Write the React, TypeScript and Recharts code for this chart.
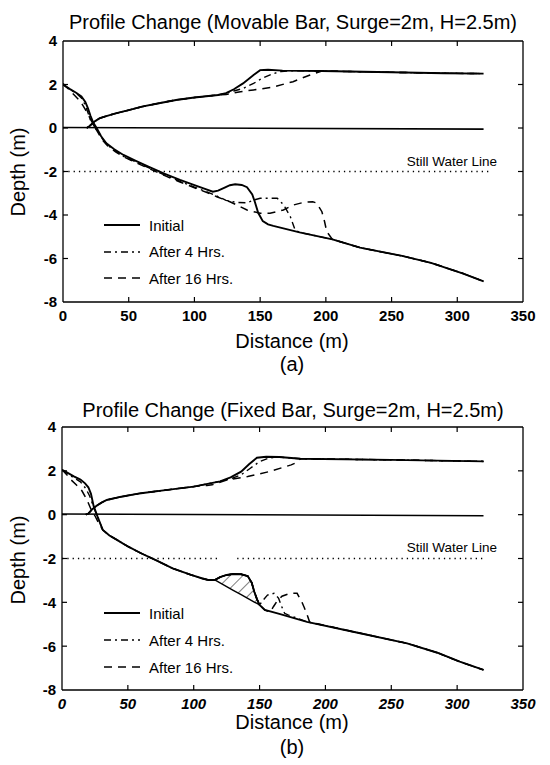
import React from 'react';
import { ComposedChart, Line, Area, XAxis, YAxis, Legend } from 'recharts';

type Pt = [number, number | null];

// panel (a) – movable bar
const A_INITIAL_BEACH: Pt[] = [
  [0, 2.0], [5, 1.8], [10, 1.62], [14, 1.45], [17, 1.2], [19, 0.9], [21, 0.55], [23, 0.25], [26, -0.05],
  [29, -0.38], [33, -0.7], [39, -0.98], [46, -1.24], [55, -1.5], [65, -1.78], [77, -2.1], [89, -2.39],
  [100, -2.63], [108, -2.8], [114, -2.93], [118, -2.88], [123, -2.74], [127, -2.63], [131, -2.59],
  [136, -2.62], [140, -2.72], [144, -3.05], [146, -3.4], [148.5, -3.9], [152, -4.28], [156, -4.43],
  [160, -4.5], [180, -4.8], [205, -5.12], [226, -5.5], [258, -5.88], [280, -6.2], [304, -6.68], [320, -7.05],
];
const A_INITIAL_UPPER: Pt[] = [
  [18, 0], [20, 0.08], [24, 0.3], [28, 0.45], [33, 0.55], [40, 0.67], [50, 0.82], [60, 0.98], [73, 1.14],
  [86, 1.29], [100, 1.4], [118, 1.52], [124, 1.6], [130, 1.78], [137, 2.05], [145, 2.44], [150, 2.66],
  [156, 2.68], [167, 2.64], [197, 2.62], [250, 2.56], [290, 2.52], [320, 2.5],
];
const A_HR4_BEACH: Pt[] = [
  [0, 2.0], [5, 1.78], [10, 1.6], [14, 1.38], [17, 1.05], [19, 0.7], [21, 0.35], [24, 0.05], [27, -0.2],
  [30, -0.5], [34, -0.8], [40, -1.05], [46, -1.3], [55, -1.55], [65, -1.82], [77, -2.15], [89, -2.45],
  [100, -2.72], [110, -2.95], [118, -3.15], [124, -3.33], [132, -3.42], [140, -3.44], [146, -3.3],
  [150, -3.23], [163, -3.23], [168, -3.54], [173, -4.08], [176.6, -4.69], [180, -4.8],
  [205, -5.12], [226, -5.5], [258, -5.88], [280, -6.2], [304, -6.68], [320, -7.05],
];
const A_HR4_UPPER: Pt[] = [
  [18, 0], [20, 0.08], [24, 0.3], [28, 0.45], [33, 0.55], [40, 0.67], [50, 0.82], [60, 0.98], [73, 1.14],
  [86, 1.29], [100, 1.4], [118, 1.52], [124, 1.6], [130, 1.7], [137, 1.82], [145, 2.05], [152, 2.3],
  [160, 2.5], [166, 2.6], [172, 2.63], [197, 2.62], [250, 2.56], [290, 2.52], [320, 2.5],
];
const A_HR16_BEACH: Pt[] = [
  [0, 2.05], [4, 1.8], [8, 1.55], [12, 1.3], [15, 1.05], [18, 0.75], [21, 0.4], [24, 0.05], [27, -0.25],
  [30, -0.55], [34, -0.82], [40, -1.1], [46, -1.32], [55, -1.58], [65, -1.85], [77, -2.18], [89, -2.48],
  [100, -2.75], [110, -2.98], [117, -3.16], [127, -3.39], [135, -3.62], [140, -3.77], [150, -3.92],
  [157.5, -3.92], [167.7, -3.77], [175.3, -3.54], [183, -3.42], [190, -3.39], [193, -3.45], [197, -3.85],
  [199, -4.3], [200.7, -4.77], [205, -5.12], [226, -5.5], [258, -5.88], [280, -6.2], [304, -6.68], [320, -7.05],
];
const A_HR16_UPPER: Pt[] = [
  [18, 0], [20, 0.08], [24, 0.3], [28, 0.45], [33, 0.55], [40, 0.67], [50, 0.82], [60, 0.98], [73, 1.14],
  [86, 1.29], [100, 1.4], [118, 1.52], [124, 1.54], [135, 1.67], [145, 1.75], [159, 1.87], [175, 2.13],
  [188, 2.44], [197, 2.62], [250, 2.56], [290, 2.52], [320, 2.5],
];

// panel (b) – fixed bar
const B_INITIAL_BEACH: Pt[] = [
  [0, 2.05], [3, 1.95], [9, 1.75], [14, 1.6], [17.5, 1.43], [20, 1.25], [22, 0.95], [24, 0.4], [27, -0.09],
  [31, -0.7], [36, -0.95], [42, -1.16], [50, -1.45], [60, -1.76], [72, -2.1], [84, -2.45], [98, -2.75],
  [106, -2.9], [111, -2.98], [116, -2.98], [120, -2.85], [125, -2.75], [130, -2.71], [136, -2.72],
  [141, -2.8], [144, -3.1], [146, -3.52], [148, -3.85], [150, -4.12], [154, -4.35], [165, -4.53],
  [186, -4.89], [221, -5.34], [262, -5.87], [285, -6.3], [302, -6.71], [320, -7.08],
];
const B_INITIAL_UPPER: Pt[] = [
  [18, 0], [20, 0.05], [23, 0.25], [26, 0.4], [30, 0.55], [34, 0.67], [45, 0.82], [60, 0.98], [80, 1.13],
  [100, 1.28], [120, 1.52], [128, 1.7], [136, 1.96], [142, 2.3], [148, 2.6], [155, 2.64], [165, 2.63],
  [181, 2.55], [250, 2.5], [320, 2.43],
];
const B_HR4_BEACH: Pt[] = [
  [0, 2.05], [4, 1.88], [9, 1.68], [14, 1.5], [18, 1.2], [21, 0.85], [24, 0.35], [27, -0.1], [31, -0.7],
  [36, -0.95], [42, -1.16], [50, -1.45], [60, -1.76], [72, -2.1], [84, -2.45], [98, -2.75], [106, -2.9],
  [111, -2.98], [116, -2.98], [120, -2.85], [125, -2.75], [130, -2.71], [136, -2.72], [141, -2.8],
  [144, -3.1], [146, -3.52], [148, -3.85], [150, -4.12], [152, -3.95], [156, -3.67], [161, -3.59],
  [164.5, -3.82], [166.5, -4.15], [169, -4.5], [172, -4.58], [186, -4.89], [221, -5.34], [262, -5.87],
  [285, -6.3], [302, -6.71], [320, -7.08],
];
const B_HR4_UPPER: Pt[] = [
  [18, 0], [20, 0.05], [23, 0.25], [26, 0.4], [30, 0.55], [34, 0.67], [45, 0.82], [60, 0.98], [80, 1.13],
  [100, 1.28], [120, 1.52], [128, 1.63], [136, 1.82], [143, 2.12], [150, 2.42], [157, 2.58], [165, 2.63],
  [181, 2.55], [250, 2.5], [320, 2.43],
];
const B_HR16_BEACH: Pt[] = [
  [0, 2.05], [4, 1.8], [7, 1.58], [11, 1.35], [15, 1.1], [19, 0.67], [22, 0.25], [25, -0.05], [28, -0.4],
  [31, -0.7], [36, -0.95], [42, -1.16], [50, -1.45], [60, -1.76], [72, -2.1], [84, -2.45], [98, -2.75],
  [106, -2.9], [111, -2.98], [116, -2.98], [120, -2.85], [125, -2.75], [130, -2.71], [136, -2.72],
  [141, -2.8], [144, -3.1], [146, -3.52], [148, -3.85], [150, -4.12], [154, -4.35], [158, -4.45],
  [160.5, -4.2], [163, -3.97], [167, -3.72], [173, -3.59], [178.5, -3.59], [182, -3.97], [184, -4.25],
  [186, -4.55], [188, -4.9], [221, -5.34], [262, -5.87], [285, -6.3], [302, -6.71], [320, -7.08],
];
const B_HR16_UPPER: Pt[] = [
  [18, 0], [20, 0.05], [23, 0.25], [26, 0.4], [30, 0.55], [34, 0.67], [45, 0.82], [60, 0.98], [80, 1.13],
  [100, 1.28], [110, 1.33], [114, 1.36], [125, 1.58], [141, 1.74], [157, 1.96], [174, 2.27], [178, 2.38],
  [181, 2.55], [250, 2.5], [320, 2.43],
];
// fixed bar: [x, base, crest]
const B_BAR: [number, number, number][] = [
  [116, -2.98, -2.98], [120, -3.11, -2.85], [125, -3.28, -2.75], [130, -3.45, -2.71], [136, -3.65, -2.72],
  [141, -3.82, -2.8], [144, -3.92, -3.1], [146, -3.99, -3.52], [148, -4.05, -3.85], [150, -4.12, -4.12],
];

const ZERO_A: Pt[] = [[0, 0.02], [320, -0.05]];
const ZERO_B: Pt[] = [[0, 0.03], [320, -0.05]];
const SWL_A: Pt[] = [[0, -2], [325, -2]];
const SWL_B: Pt[] = [[0, -2], [119, -2], [126, null], [133, -2], [322, -2]];

const X_TICKS = [0, 50, 100, 150, 200, 250, 300, 350];
const Y_TICKS = [-8, -6, -4, -2, 0, 2, 4];
const LEGEND_LABELS = ['Initial', 'After 4 Hrs.', 'After 16 Hrs.'];
const DASHES = [undefined, '7 4 2 4', '8 6'];
const WIDTHS = [1.9, 1.4, 1.5];

const FONT = '"Liberation Sans", Arial, Helvetica, sans-serif';

const pts = (a: Pt[]) => a.map(([x, y]) => ({ x, y }));

const BottomTick = (p: any) => {
  const { x, y, payload, italic } = p;
  const v = payload.value;
  return (
    <g>
      {v > 0 && v < 350 && <line x1={x} y1={y} x2={x} y2={y - 5} stroke="#000" strokeWidth={1.2} />}
      <text x={x} y={y + 19} textAnchor="middle" fontSize={15} fontWeight="bold"
        fontStyle={italic ? 'italic' : 'normal'} fontFamily={FONT} fill="#000">{v}</text>
    </g>
  );
};
const TopTick = (p: any) => {
  const { x, y, payload } = p;
  const v = payload.value;
  if (v <= 0 || v >= 350) return <g />;
  return <line x1={x} y1={y} x2={x} y2={y + 5} stroke="#000" strokeWidth={1.2} />;
};
const LeftTick = (p: any) => {
  const { x, y, payload } = p;
  const v = payload.value;
  return (
    <g>
      {v > -8 && v < 4 && <line x1={x} y1={y} x2={x + 5} y2={y} stroke="#000" strokeWidth={1.2} />}
      <text x={x - 6} y={y} dy="0.36em" textAnchor="end" fontSize={15} fontWeight="bold"
        fontFamily={FONT} fill="#000">{v}</text>
    </g>
  );
};
const RightTick = (p: any) => {
  const { x, y, payload } = p;
  const v = payload.value;
  if (v <= -8 || v >= 4) return <g />;
  return <line x1={x} y1={y} x2={x - 5} y2={y} stroke="#000" strokeWidth={1.2} />;
};

const LegendBox = ({ rowH }: { rowH: number }) => (
  <div style={{ fontFamily: FONT, fontSize: 15, color: '#000' }}>
    {LEGEND_LABELS.map((name, i) => (
      <div key={name} style={{ height: rowH, display: 'flex', alignItems: 'center' }}>
        <svg width={38} height={6} style={{ marginRight: 8 }}>
          <line x1={1} y1={3} x2={37} y2={3} stroke="#000" strokeWidth={WIDTHS[i]} strokeDasharray={DASHES[i]} />
        </svg>
        <span>{name}</span>
      </div>
    ))}
  </div>
);

interface PanelProps {
  top: number;
  margin: { top: number; right: number; bottom: number; left: number };
  series: Pt[][][]; // [initial, 4h, 16h] each [beach, upper]
  zero: Pt[];
  swl: Pt[];
  bar?: [number, number, number][];
  italicX?: boolean;
  legendTop: number;
  rowH: number;
}

const Panel = ({ top, margin, series, zero, swl, bar, italicX, legendTop, rowH }: PanelProps) => {
  const axisLine = { stroke: '#000', strokeWidth: 1.3 };
  const ids = { xAxisId: 'b', yAxisId: 'l' };
  return (
    <div style={{ position: 'absolute', left: 0, top, width: 550, height: 380 }}>
      <ComposedChart width={550} height={380} margin={margin}>
        <defs>
          <pattern id="hatch" width="9" height="9" patternUnits="userSpaceOnUse" patternTransform="rotate(45)">
            <line x1="0" y1="0" x2="0" y2="9" stroke="#000" strokeWidth="1" />
          </pattern>
        </defs>
        <XAxis xAxisId="b" dataKey="x" type="number" domain={[0, 350]} ticks={X_TICKS} interval={0}
          height={1} tickSize={0} tickMargin={0} tickLine={false} axisLine={axisLine} allowDataOverflow
          tick={(p: any) => <BottomTick {...p} italic={italicX} />} />
        <XAxis xAxisId="t" orientation="top" dataKey="x" type="number" domain={[0, 350]} ticks={X_TICKS}
          interval={0} height={1} tickSize={0} tickMargin={0} tickLine={false} axisLine={axisLine}
          allowDataOverflow tick={(p: any) => <TopTick {...p} />} />
        <YAxis yAxisId="l" type="number" domain={[-8, 4]} ticks={Y_TICKS} interval={0} width={1}
          tickSize={0} tickMargin={0} tickLine={false} axisLine={axisLine} allowDataOverflow
          tick={(p: any) => <LeftTick {...p} />} />
        <YAxis yAxisId="r" orientation="right" type="number" domain={[-8, 4]} ticks={Y_TICKS} interval={0}
          width={1} tickSize={0} tickMargin={0} tickLine={false} axisLine={axisLine} allowDataOverflow
          tick={(p: any) => <RightTick {...p} />} />
        {bar && (
          <Area {...ids} data={bar.map(([x, lo, hi]) => ({ x, range: [lo, hi] }))} dataKey="range"
            type="linear" stroke="#000" strokeWidth={1.4} fill="url(#hatch)" fillOpacity={1}
            isAnimationActive={false} legendType="none" />
        )}
        <Line {...ids} data={pts(zero)} dataKey="y" type="linear" stroke="#000" strokeWidth={1.6}
          dot={false} activeDot={false} isAnimationActive={false} legendType="none" />
        <Line {...ids} data={pts(swl)} dataKey="y" type="linear" stroke="#000" strokeWidth={1.3}
          strokeDasharray="1.3 4" dot={false} activeDot={false} isAnimationActive={false} legendType="none" />
        {series.map((pair, si) =>
          pair.map((arr, k) => (
            <Line key={`${si}-${k}`} {...ids} data={pts(arr)} dataKey="y" type="linear" stroke="#000"
              strokeWidth={WIDTHS[si]} strokeDasharray={DASHES[si]} dot={false} activeDot={false}
              isAnimationActive={false} legendType="none" />
          )).reverse()
        )}
        <Legend layout="vertical" align="center" verticalAlign="middle"
          wrapperStyle={{ left: 103, top: legendTop, width: 170 }}
          content={() => <LegendBox rowH={rowH} />} />
      </ComposedChart>
    </div>
  );
};

const Txt = ({ x, y, size, children, rotate, anchor }: any) => (
  <div style={{
    position: 'absolute', left: x, top: y, fontSize: size, fontFamily: FONT, whiteSpace: 'nowrap',
    lineHeight: 1, color: '#000',
    transform: `translate(${anchor === 'end' ? '-100%' : '-50%'}, -50%)${rotate ? ' rotate(-90deg)' : ''}`,
  }}>{children}</div>
);

export default function App() {
  return (
    <div style={{ position: 'relative', width: 550, height: 765, background: '#fff', overflow: 'hidden' }}>
      <style>{'body{margin:0}'}</style>
      <Panel top={0} margin={{ top: 40, right: 26, bottom: 77, left: 62 }}
        series={[[A_INITIAL_BEACH, A_INITIAL_UPPER], [A_HR4_BEACH, A_HR4_UPPER], [A_HR16_BEACH, A_HR16_UPPER]]}
        zero={ZERO_A} swl={SWL_A} legendTop={212} rowH={26.5} />
      <Panel top={385} margin={{ top: 41, right: 26, bottom: 74, left: 61 }}
        series={[[B_INITIAL_BEACH, B_INITIAL_UPPER], [B_HR4_BEACH, B_HR4_UPPER], [B_HR16_BEACH, B_HR16_UPPER]]}
        zero={ZERO_B} swl={SWL_B} bar={B_BAR} italicX legendTop={214.5} rowH={27} />

      <Txt x={293} y={22} size={20}>Profile Change (Movable Bar, Surge=2m, H=2.5m)</Txt>
      <Txt x={18} y={172} size={20} rotate>Depth (m)</Txt>
      <Txt x={497} y={162} size={13.5} anchor="end">Still Water Line</Txt>
      <Txt x={292} y={341} size={20}>Distance (m)</Txt>
      <Txt x={292} y={364} size={20}>(a)</Txt>

      <Txt x={293} y={410} size={20}>Profile Change (Fixed Bar, Surge=2m, H=2.5m)</Txt>
      <Txt x={18} y={560} size={20} rotate>Depth (m)</Txt>
      <Txt x={497} y={548} size={13.5} anchor="end">Still Water Line</Txt>
      <Txt x={292} y={722} size={20}>Distance (m)</Txt>
      <Txt x={292} y={747} size={20}>(b)</Txt>
    </div>
  );
}
